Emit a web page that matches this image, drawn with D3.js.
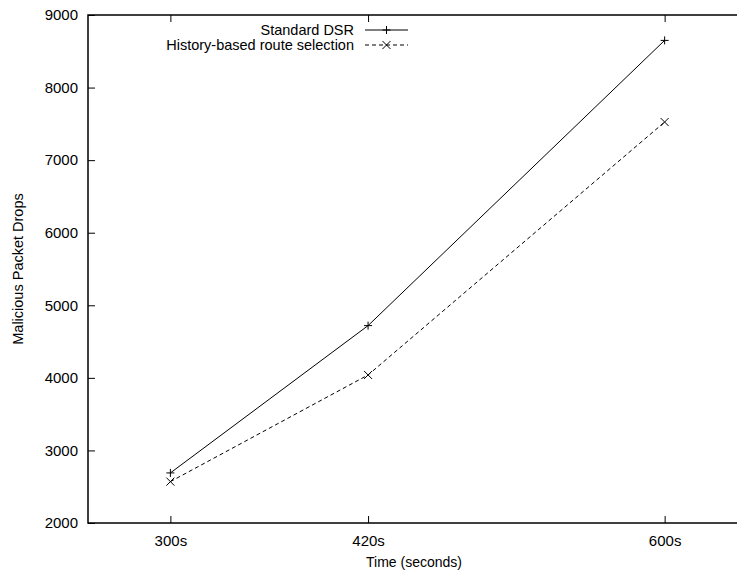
<!DOCTYPE html>
<html>
<head>
<meta charset="utf-8">
<script src="https://cdn.jsdelivr.net/npm/d3@7"></script>
<style>
  html, body { margin: 0; padding: 0; background: #fff; }
  svg { display: block; font-family: "Liberation Sans", Arial, Helvetica, sans-serif; }
</style>
</head>
<body>
<svg id="chart" width="737" height="576"></svg>
<script>
// Simulation times (seconds) and their tick labels
const times = [300, 420, 600];
const timeLabels = ["300s", "420s", "600s"];

// Malicious packet drops per routing scheme
const standardDSR = [2690, 4720, 8650];
const historyBased = [2570, 4040, 7525];

const seriesNames = ["Standard DSR", "History-based route selection"];

const yTicks = [2000, 3000, 4000, 5000, 6000, 7000, 8000, 9000];

const svg = d3.select("#chart");
const plot = { left: 88, top: 15, bottom: 523, right: 747 };

const x = d3.scaleLinear().domain([250, 650]).range([plot.left, plot.right]);
const y = d3.scaleLinear().domain([2000, 9000]).range([plot.bottom, plot.top]);

const tickLen = 7;
const g = svg.append("g");

// Frame
g.append("rect")
  .attr("x", plot.left).attr("y", plot.top)
  .attr("width", plot.right - plot.left).attr("height", plot.bottom - plot.top)
  .attr("fill", "none").attr("stroke", "#000").attr("stroke-width", 1.5);

// Y axis (ticks drawn inward, mirrored on the right edge)
const yAxis = d3.axisLeft(y).tickValues(yTicks).tickSize(-tickLen).tickPadding(10)
  .tickFormat(d3.format("d"));
const ya = g.append("g").attr("transform", `translate(${plot.left},0)`).call(yAxis);
ya.select(".domain").remove();
ya.selectAll("text").attr("font-size", 15).attr("fill", "#000")
  .style("font-family", "'Liberation Sans', Arial, sans-serif");
ya.selectAll("line").attr("stroke", "#000");

const yMirror = d3.axisRight(y).tickValues(yTicks).tickSize(-tickLen).tickFormat("");
const ym = g.append("g").attr("transform", `translate(${plot.right},0)`).call(yMirror);
ym.select(".domain").remove();

// X axis (ticks inward, mirrored on top)
const xAxis = d3.axisBottom(x).tickValues(times).tickSize(-tickLen).tickPadding(12)
  .tickFormat((d, i) => timeLabels[i]);
const xa = g.append("g").attr("transform", `translate(0,${plot.bottom})`).call(xAxis);
xa.select(".domain").remove();
xa.selectAll("text").attr("font-size", 15).attr("fill", "#000")
  .style("font-family", "'Liberation Sans', Arial, sans-serif");
xa.selectAll("line").attr("stroke", "#000");

const xMirror = d3.axisTop(x).tickValues(times).tickSize(-tickLen).tickFormat("");
const xm = g.append("g").attr("transform", `translate(0,${plot.top})`).call(xMirror);
xm.select(".domain").remove();
xm.selectAll("line").attr("stroke", "#000");

// Axis titles
svg.append("text")
  .attr("x", 414).attr("y", 567)
  .attr("text-anchor", "middle").attr("font-size", 14)
  .text("Time (seconds)");

svg.append("text")
  .attr("transform", `translate(23,${(plot.top + plot.bottom) / 2}) rotate(-90)`)
  .attr("text-anchor", "middle").attr("font-size", 14.5)
  .text("Malicious Packet Drops");

// Series
const line = d3.line()
  .x(d => x(d.t)).y(d => y(d.v));

const toPts = vals => times.map((t, i) => ({ t, v: vals[i] }));

svg.append("clipPath").attr("id", "clip")
  .append("rect").attr("x", plot.left).attr("y", plot.top)
  .attr("width", plot.right - plot.left).attr("height", plot.bottom - plot.top);

const series = [
  { name: seriesNames[0], vals: standardDSR, dash: null, marker: "plus" },
  { name: seriesNames[1], vals: historyBased, dash: "4,3", marker: "cross" }
];

const ms = 4;
function drawMarker(sel, type, cx, cy) {
  const p = type === "plus"
    ? `M${cx - ms},${cy}H${cx + ms}M${cx},${cy - ms}V${cy + ms}`
    : `M${cx - ms},${cy - ms}L${cx + ms},${cy + ms}M${cx - ms},${cy + ms}L${cx + ms},${cy - ms}`;
  sel.append("path").attr("d", p).attr("stroke", "#000").attr("stroke-width", 1).attr("fill", "none");
}

const sg = svg.append("g").attr("clip-path", "url(#clip)");
series.forEach(s => {
  sg.append("path")
    .datum(toPts(s.vals))
    .attr("d", line)
    .attr("fill", "none").attr("stroke", "#000").attr("stroke-width", 1)
    .attr("stroke-dasharray", s.dash);
  toPts(s.vals).forEach(d => drawMarker(sg, s.marker, x(d.t), y(d.v)));
});

// Legend
const leg = svg.append("g");
series.forEach((s, i) => {
  const ly = 30 + i * 15;
  leg.append("text")
    .attr("x", 354).attr("y", ly + 5)
    .attr("text-anchor", "end").attr("font-size", 14.5)
    .text(s.name);
  leg.append("line")
    .attr("x1", 365).attr("x2", 408).attr("y1", ly).attr("y2", ly)
    .attr("stroke", "#000").attr("stroke-width", 1)
    .attr("stroke-dasharray", s.dash);
  drawMarker(leg, s.marker, 386.5, ly);
});
</script>
</body>
</html>
